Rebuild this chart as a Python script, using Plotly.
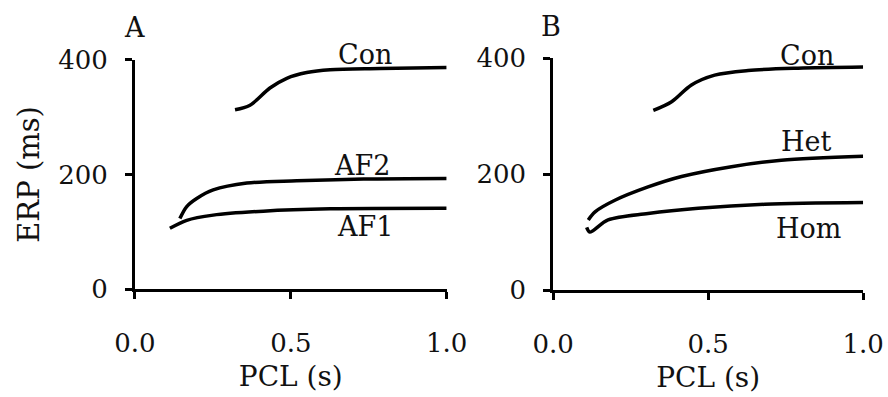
import plotly.graph_objects as go

# Effective refractory period (ms) vs pacing cycle length (s)
# Panel A: control vs AF remodelling stages
pcl_a_con = [0.321, 0.369, 0.433, 0.487, 0.551, 0.626, 0.787, 1.0]
erp_a_con = [313, 321, 351, 368, 378, 383, 385, 387]

pcl_a_af2 = [0.144, 0.166, 0.198, 0.251, 0.359, 0.519, 0.733, 1.0]
erp_a_af2 = [123, 144, 158, 173, 185, 189, 192, 193]

pcl_a_af1 = [0.112, 0.166, 0.251, 0.412, 0.626, 1.0]
erp_a_af1 = [106, 120, 129, 136, 140, 141]

# Panel B: control vs heterozygous / homozygous
pcl_b_con = [0.323, 0.382, 0.446, 0.521, 0.629, 0.79, 1.0]
erp_b_con = [310, 325, 354, 371, 379, 383, 385]

pcl_b_het = [0.113, 0.135, 0.199, 0.306, 0.414, 0.575, 0.736, 1.0]
erp_b_het = [121, 135, 155, 178, 196, 213, 224, 231]

pcl_b_hom = [0.108, 0.118, 0.177, 0.306, 0.468, 0.683, 1.0]
erp_b_hom = [108, 100, 121, 132, 141, 148, 151]

x_ticks = [0, 0.5, 1.0]
x_tick_text = ["0.0", "0.5", "1.0"]
y_ticks = [0, 200, 400]
y_tick_text = ["0", "200", "400"]

FONT = "DejaVu Serif"
TEXT = "#111"
line_style = dict(color="black", width=3.5, shape="spline", smoothing=0.9)

fig = go.Figure()
for xs, ys in [(pcl_a_con, erp_a_con), (pcl_a_af2, erp_a_af2), (pcl_a_af1, erp_a_af1)]:
    fig.add_trace(go.Scatter(x=xs, y=ys, mode="lines", line=line_style,
                             xaxis="x", yaxis="y", showlegend=False))
for xs, ys in [(pcl_b_con, erp_b_con), (pcl_b_het, erp_b_het), (pcl_b_hom, erp_b_hom)]:
    fig.add_trace(go.Scatter(x=xs, y=ys, mode="lines", line=line_style,
                             xaxis="x2", yaxis="y2", showlegend=False))

xaxis_common = dict(range=[0, 1.0], tickvals=x_ticks, ticktext=x_tick_text,
                    showline=True, linecolor="black", linewidth=3,
                    ticks="outside", ticklen=7, tickwidth=3, tickcolor="black",
                    showgrid=False, zeroline=False, ticklabelstandoff=22,
                    automargin=False,
                    tickfont=dict(family=FONT, size=26, color=TEXT),
                    title=dict(text="PCL (s)", standoff=10,
                               font=dict(family=FONT, size=28, color=TEXT)))
yaxis_common = dict(range=[0, 400], tickvals=y_ticks, ticktext=y_tick_text,
                    showline=True, linecolor="black", linewidth=3,
                    ticks="outside", ticklen=7, tickwidth=3, tickcolor="black",
                    showgrid=False, zeroline=False, ticklabelstandoff=12,
                    automargin=False,
                    tickfont=dict(family=FONT, size=26, color=TEXT))

fig.update_layout(
    width=888, height=397, autosize=False,
    margin=dict(l=0, r=0, t=0, b=0),
    paper_bgcolor="white", plot_bgcolor="white",
    xaxis=dict(domain=[0.152, 0.503], anchor="y", **xaxis_common),
    xaxis2=dict(domain=[0.623, 0.972], anchor="y2", **xaxis_common),
    yaxis=dict(domain=[0.272, 0.849], anchor="x",
               title=dict(text="ERP (ms)", standoff=10,
                          font=dict(family=FONT, size=29, color=TEXT)),
               **yaxis_common),
    yaxis2=dict(domain=[0.2695, 0.853], anchor="x2", **yaxis_common),
)

label_font = dict(family=FONT, size=27, color=TEXT)
annotations = [
    dict(text="A", x=134 / 888, y=1 - 28 / 397, xref="paper", yref="paper"),
    dict(text="B", x=551 / 888, y=1 - 26 / 397, xref="paper", yref="paper"),
    dict(text="Con", x=365 / 888, y=1 - 54 / 397, xref="paper", yref="paper"),
    dict(text="AF2", x=0.729, y=216, xref="x", yref="y"),
    dict(text="AF1", x=0.738, y=110, xref="x", yref="y"),
    dict(text="Con", x=807 / 888, y=1 - 55 / 397, xref="paper", yref="paper"),
    dict(text="Het", x=0.816, y=256, xref="x2", yref="y2"),
    dict(text="Hom", x=0.823, y=107, xref="x2", yref="y2"),
]
for a in annotations:
    fig.add_annotation(showarrow=False, xanchor="center", yanchor="middle",
                       font=label_font, **a)

fig.write_html("out.html")
